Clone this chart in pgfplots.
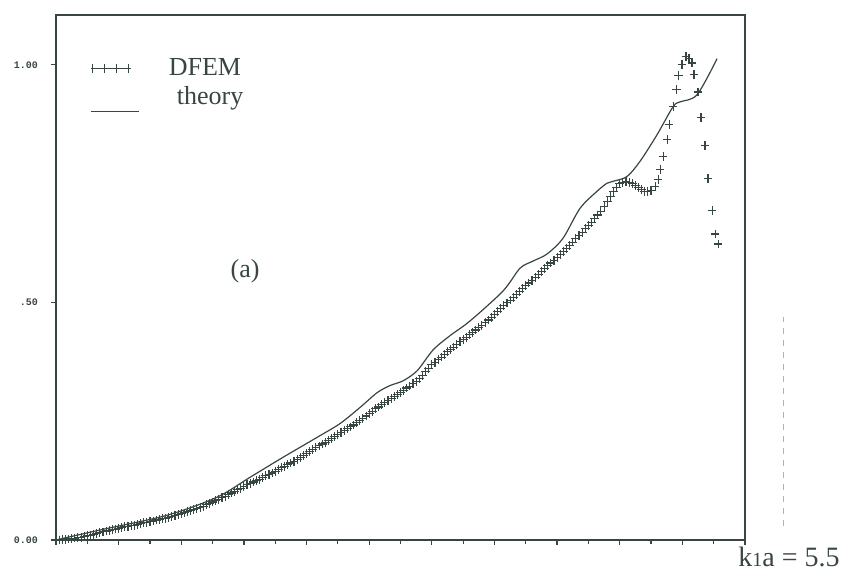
\documentclass[border=0pt]{standalone}
\usepackage{pgfplots}
\pgfplotsset{compat=1.18}
\usepackage{fontspec}
\setmainfont{Liberation Serif}
\newfontfamily\monofont{Liberation Mono}
\definecolor{ink}{RGB}{55,70,65}
\begin{document}
\begin{tikzpicture}
\begin{axis}[
  scale only axis, width=344.5pt, height=262.5pt,
  xmin=0, xmax=5.5, ymin=0, ymax=1.105,
  xtick={0,0.5,...,5.5}, minor xtick={0.25,0.75,...,5.25}, xticklabels={},
  ytick={0,0.5,1}, yticklabels={0.00,.50,1.00},
  tick align=outside, xtick pos=bottom, ytick pos=left,
  major tick length=2.5pt, minor tick length=1.8pt,
  axis line style={ink, line width=0.7pt},
  every tick/.style={ink, line width=0.6pt},
  minor tick style={ink, line width=0.6pt},
  yticklabel style={font=\monofont\bfseries\fontsize{5}{6}\selectfont, text=ink, xshift=-3pt},
  clip=false,
  legend style={at={(axis cs:0.27,1.022)}, anchor=north west, draw=none, fill=none,
    font=\fontsize{13}{15}\selectfont, text=ink, inner sep=0pt, row sep=0pt},
  legend cell align=left,
]
\addplot[only marks, mark=+, mark size=2.2pt, ink, mark options={line width=0.55pt},
  legend image code/.code={
    \draw[ink, line width=0.5pt] (0pt,0pt)--(20pt,0pt);
    \foreach \xx in {1,7,13,19}{\draw[ink,line width=0.5pt] (\xx pt,-2.2pt)--(\xx pt,2.2pt);}
    \path[draw=none] (0pt,0pt)--(37pt,0pt);}]
table {
x y
0.000 0.000
0.025 0.000
0.050 0.001
0.075 0.001
0.100 0.002
0.125 0.003
0.150 0.004
0.175 0.005
0.200 0.006
0.225 0.007
0.250 0.009
0.275 0.010
0.300 0.012
0.325 0.014
0.350 0.016
0.375 0.017
0.400 0.019
0.425 0.020
0.450 0.022
0.475 0.023
0.500 0.025
0.525 0.026
0.550 0.028
0.575 0.029
0.600 0.030
0.625 0.031
0.650 0.033
0.675 0.034
0.700 0.036
0.725 0.037
0.750 0.039
0.775 0.040
0.800 0.042
0.825 0.043
0.850 0.045
0.875 0.046
0.900 0.047
0.925 0.049
0.950 0.051
0.975 0.053
1.000 0.055
1.025 0.057
1.050 0.060
1.075 0.062
1.100 0.064
1.125 0.066
1.150 0.069
1.175 0.071
1.200 0.074
1.225 0.077
1.250 0.080
1.275 0.083
1.300 0.086
1.325 0.089
1.350 0.092
1.375 0.095
1.400 0.099
1.425 0.102
1.450 0.106
1.475 0.109
1.500 0.113
1.525 0.116
1.550 0.119
1.575 0.122
1.600 0.125
1.625 0.128
1.650 0.132
1.675 0.135
1.700 0.138
1.725 0.141
1.750 0.145
1.775 0.148
1.800 0.152
1.825 0.155
1.850 0.159
1.875 0.162
1.900 0.166
1.925 0.170
1.950 0.174
1.975 0.178
2.000 0.182
2.025 0.186
2.050 0.190
2.075 0.194
2.100 0.198
2.125 0.202
2.150 0.206
2.175 0.210
2.200 0.214
2.225 0.218
2.250 0.222
2.275 0.226
2.300 0.230
2.325 0.234
2.350 0.238
2.375 0.242
2.400 0.247
2.425 0.251
2.450 0.256
2.475 0.261
2.500 0.266
2.525 0.271
2.550 0.276
2.575 0.280
2.600 0.285
2.625 0.289
2.650 0.294
2.675 0.298
2.700 0.302
2.725 0.306
2.750 0.310
2.775 0.315
2.800 0.320
2.825 0.324
2.850 0.329
2.875 0.334
2.900 0.339
2.925 0.346
2.950 0.354
2.975 0.361
3.000 0.369
3.025 0.374
3.050 0.380
3.075 0.385
3.100 0.391
3.125 0.396
3.150 0.401
3.175 0.406
3.200 0.412
3.225 0.417
3.250 0.422
3.275 0.427
3.300 0.432
3.325 0.437
3.350 0.442
3.375 0.447
3.400 0.452
3.425 0.457
3.450 0.463
3.475 0.469
3.500 0.475
3.525 0.481
3.550 0.487
3.575 0.493
3.600 0.499
3.625 0.505
3.650 0.511
3.675 0.517
3.700 0.523
3.725 0.529
3.750 0.535
3.775 0.541
3.800 0.547
3.825 0.553
3.850 0.559
3.875 0.565
3.900 0.571
3.925 0.577
3.950 0.583
3.975 0.589
4.000 0.595
4.025 0.601
4.050 0.607
4.075 0.613
4.100 0.620
4.125 0.627
4.150 0.634
4.175 0.641
4.200 0.648
4.225 0.655
4.250 0.662
4.275 0.669
4.300 0.677
4.325 0.684
4.350 0.692
4.375 0.702
4.400 0.712
4.425 0.723
4.450 0.734
4.475 0.742
4.500 0.750
4.525 0.753
4.550 0.755
4.575 0.753
4.600 0.750
4.625 0.746
4.650 0.742
4.675 0.738
4.700 0.734
4.725 0.734
4.750 0.735
4.782 0.744
4.806 0.759
4.822 0.780
4.846 0.807
4.878 0.843
4.894 0.874
4.926 0.912
4.950 0.948
4.966 0.977
4.997 1.000
5.029 1.017
5.053 1.013
5.077 1.004
5.093 0.979
5.125 0.943
5.149 0.889
5.181 0.830
5.205 0.761
5.237 0.694
5.261 0.644
5.285 0.623
};
\addplot[ink, line width=0.6pt, smooth, tension=0.5,
  legend image code/.code={
    \draw[ink, line width=0.6pt] (0pt,-7pt)--(24pt,-7pt);
    \path[draw=none] (0pt,0pt)--(37pt,0pt);}]
coordinates {
(0,0) (0.351,0.021) (0.886,0.052) (1.285,0.090) (1.549,0.132) (1.812,0.174)
(2.084,0.216) (2.267,0.245) (2.427,0.279) (2.563,0.310) (2.666,0.325) (2.770,0.335)
(2.882,0.356) (3.010,0.400) (3.145,0.430) (3.305,0.461) (3.568,0.524) (3.704,0.572)
(3.808,0.587) (3.920,0.602) (4.047,0.635) (4.183,0.698) (4.319,0.734) (4.399,0.751)
(4.447,0.755) (4.558,0.765) (4.662,0.797) (4.798,0.853) (4.926,0.912) (4.981,0.922)
(5.117,0.937) (5.277,1.013)
};
\legend{DFEM, \hspace{4pt}theory}
\node[text=ink, font=\fontsize{13}{15}\selectfont] at (axis cs:1.509,0.566) {(a)};
\node[text=ink, font=\fontsize{14}{16}\selectfont] at (axis cs:5.851,-0.036) {k{\fontsize{10}{10}\selectfont 1}a = 5.5};
\draw[gray!60, dashed, line width=0.5pt] (axis cs:5.804,0.03) -- (axis cs:5.804,0.47);
\path (rel axis cs:0,0) ++(-28pt,-20.5pt) coordinate (bbsw);
\path (rel axis cs:1,1) ++(55.5pt,7.5pt) coordinate (bbne);
\end{axis}
\pgfresetboundingbox
\path[use as bounding box] (bbsw) rectangle (bbne);
\end{tikzpicture}
\end{document}
